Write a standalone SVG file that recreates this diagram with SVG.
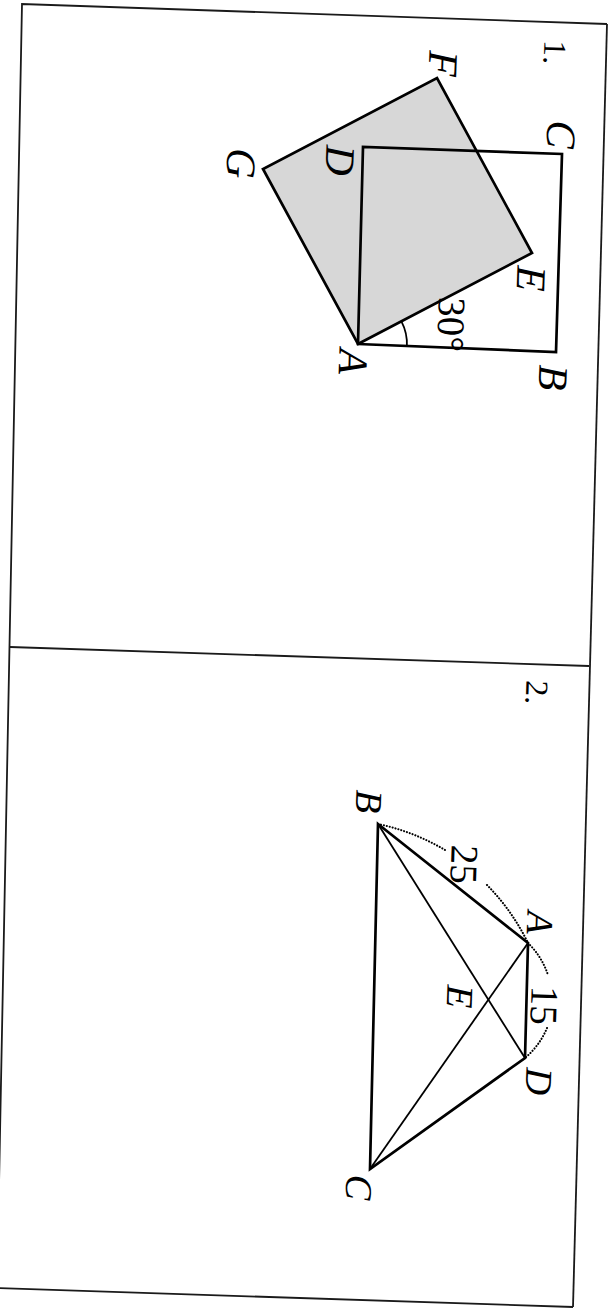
<svg xmlns="http://www.w3.org/2000/svg" width="611" height="1312" viewBox="0 0 611 1312">
<style>
.frame{fill:none;stroke:#1a1a1a;stroke-width:1.8}
.thick{fill:none;stroke:#000;stroke-width:2.7;stroke-linejoin:miter}
.thin{fill:none;stroke:#000;stroke-width:1.8}
.dot{fill:none;stroke:#000;stroke-width:2.1;stroke-linecap:round;stroke-dasharray:0.1 2.9}
.lab{font-family:'Liberation Serif','Times New Roman',serif;font-style:italic;fill:#000;text-anchor:middle}
.num{font-family:'Liberation Serif','Times New Roman',serif;fill:#000;text-anchor:middle}
</style>
<rect width="611" height="1312" fill="#fff"/>
<g id="frame">
<polyline class="frame" points="607,24 22,4 -3,1288"/>
<line class="frame" x1="607" y1="24" x2="573" y2="1307"/>
<line class="frame" x1="-3" y1="1288" x2="573" y2="1307"/>
<line class="frame" x1="10" y1="647" x2="589" y2="666"/>
</g>
<g id="figure1">
<g id="square-AEFG"><polygon points="358,344 532,253 437,78 263,169" fill="#d7d7d7" stroke="#000" stroke-width="2.7"/></g>
<g id="square-ABCD"><polygon class="thick" points="358,344 556,352 562,154 363,147"/></g>
<g id="angle-30"><path class="thin" d="M401.4,321.3 A49,49 0 0 1 406.9,346"/></g>
<g id="labels1">
<text class="num" font-size="32" transform="translate(544,52) rotate(92)">1.</text>
<text class="lab" font-size="42" transform="translate(429,63) rotate(92)">F</text>
<text class="lab" font-size="42" transform="translate(547,134) rotate(92)">C</text>
<text class="lab" font-size="42" transform="translate(326,160) rotate(92)">D</text>
<text class="lab" font-size="42" transform="translate(227,163) rotate(92)">G</text>
<text class="lab" font-size="42" transform="translate(517,278) rotate(92)">E</text>
<text class="num" font-size="39" transform="translate(438,324) rotate(92)">30°</text>
<text class="lab" font-size="42" transform="translate(339,361) rotate(92)">A</text>
<text class="lab" font-size="42" transform="translate(539,377) rotate(92)">B</text>
</g>
</g>
<g id="figure2">
<g id="edges2">
<polygon class="thick" points="378,824 528,943 525,1058 370,1169"/>
<line class="thin" x1="378" y1="824" x2="525" y2="1058"/>
<line class="thin" x1="528" y1="943" x2="370" y2="1169"/>
<path class="dot" d="M378,824 A219,219 0 0 1 445,850"/>
<path class="dot" d="M487,885 A219,219 0 0 1 528,943"/>
<path class="dot" d="M528,943 A78.6,78.6 0 0 1 548,975"/>
<path class="dot" d="M547,1028 A78.6,78.6 0 0 1 525,1058"/>
</g>
<g id="labels2">
<text class="num" font-size="32" transform="translate(526,692) rotate(92)">2.</text>
<text class="lab" font-size="38" transform="translate(356,801) rotate(92)">B</text>
<text class="num" font-size="39" transform="translate(451,864) rotate(92)">25</text>
<text class="lab" font-size="38" transform="translate(527,922) rotate(92)">A</text>
<text class="num" font-size="39" transform="translate(531,1005) rotate(92)">15</text>
<text class="lab" font-size="38" transform="translate(447,996) rotate(92)">E</text>
<text class="lab" font-size="38" transform="translate(526,1081) rotate(92)">D</text>
<text class="lab" font-size="38" transform="translate(346,1187) rotate(92)">C</text>
</g>
</g>
</svg>
